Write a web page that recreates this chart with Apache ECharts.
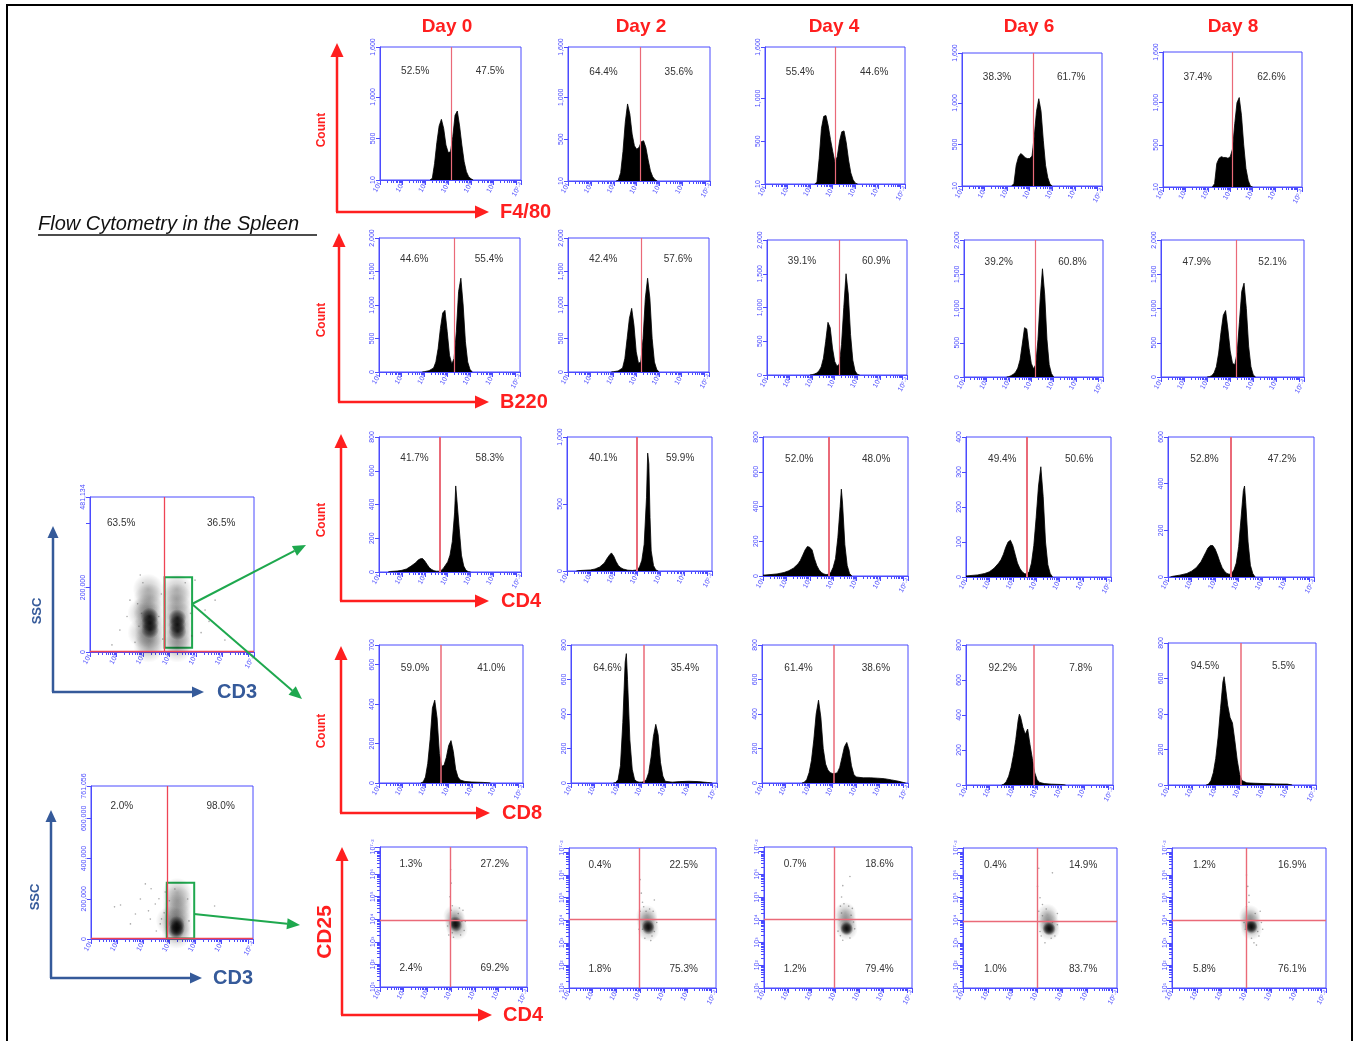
<!DOCTYPE html>
<html><head><meta charset="utf-8">
<script src="https://cdn.jsdelivr.net/npm/echarts@6/dist/echarts.min.js"></script>
<style>html,body{margin:0;padding:0;background:#fff}#c{width:1356px;height:1041px}</style>
</head><body><div id="c"></div><script>
// ---------------- DATA (log10 fluorescence, count) ----------------
const DAYS = ['Day 0', 'Day 2', 'Day 4', 'Day 6', 'Day 8'];
const ROW_MARKERS = ['F4/80', 'B220', 'CD4', 'CD8'];

// F4/80
const f480Day0 = [[3.2,0],[3.3,20],[3.4,200],[3.5,450],[3.6,650],[3.7,730],[3.8,620],[3.9,420],[4.0,330],[4.1,340],[4.2,520],[4.3,780],[4.4,830],[4.5,650],[4.6,420],[4.7,220],[4.8,100],[4.9,40],[5.0,15],[5.1,0]];
const f480Day2 = [[3.1,0],[3.2,10],[3.3,100],[3.4,350],[3.5,700],[3.6,920],[3.7,800],[3.8,560],[3.9,420],[4.0,380],[4.1,400],[4.2,470],[4.3,480],[4.4,400],[4.5,250],[4.6,120],[4.7,50],[4.8,15],[4.9,0]];
const f480Day4 = [[3.2,0],[3.3,20],[3.4,300],[3.5,650],[3.6,790],[3.7,800],[3.8,680],[3.9,520],[4.0,380],[4.1,250],[4.2,320],[4.3,500],[4.4,610],[4.5,620],[4.6,480],[4.7,280],[4.8,130],[4.9,50],[5.0,10],[5.1,0]];
const f480Day6 = [[3.2,0],[3.3,30],[3.4,250],[3.5,350],[3.6,390],[3.7,370],[3.8,340],[3.9,330],[4.0,330],[4.1,360],[4.2,600],[4.3,900],[4.4,1050],[4.5,900],[4.6,550],[4.7,250],[4.8,100],[4.9,20],[5.0,0]];
const f480Day8 = [[3.2,0],[3.3,40],[3.4,280],[3.5,340],[3.6,360],[3.7,350],[3.8,350],[3.9,340],[4.0,360],[4.1,450],[4.2,750],[4.3,1000],[4.4,1060],[4.5,850],[4.6,500],[4.7,220],[4.8,80],[4.9,10],[5.0,0]];
const f480Gate = [4.13, 4.14, 4.13, 4.14, 4.11];
const f480Pct = [['52.5%','47.5%'],['64.4%','35.6%'],['55.4%','44.6%'],['38.3%','61.7%'],['37.4%','62.6%']];
const f480YMax = [1600, 1600, 1600, 1600, 1600];
const f480YTicks = [0, 500, 1000, 1600];

// B220
const b220Day0 = [[2.9,0],[3.0,5],[3.2,20],[3.4,60],[3.5,150],[3.6,350],[3.7,650],[3.8,880],[3.9,920],[4.0,600],[4.1,250],[4.2,120],[4.3,200],[4.4,600],[4.5,1200],[4.6,1400],[4.7,1000],[4.8,450],[4.9,150],[5.0,40],[5.1,0]];
const b220Day2 = [[2.9,0],[3.0,5],[3.2,15],[3.4,60],[3.5,200],[3.6,500],[3.7,800],[3.8,950],[3.9,700],[4.0,300],[4.1,130],[4.2,150],[4.3,500],[4.4,1100],[4.5,1400],[4.6,1100],[4.7,500],[4.8,150],[4.9,40],[5.0,0]];
const b220Day4 = [[2.9,0],[3.0,5],[3.1,15],[3.2,30],[3.3,60],[3.4,120],[3.5,250],[3.6,500],[3.7,780],[3.8,700],[3.9,400],[4.0,200],[4.1,130],[4.2,160],[4.3,450],[4.4,1000],[4.5,1500],[4.6,1200],[4.7,600],[4.8,220],[4.9,60],[5.0,10],[5.1,0]];
const b220Day6 = [[2.9,0],[3.0,5],[3.1,20],[3.2,40],[3.3,70],[3.4,130],[3.5,250],[3.6,480],[3.7,720],[3.8,700],[3.9,420],[4.0,200],[4.1,120],[4.2,180],[4.3,550],[4.4,1150],[4.5,1580],[4.6,1200],[4.7,550],[4.8,180],[4.9,50],[5.0,0]];
const b220Day8 = [[3.0,0],[3.1,5],[3.2,20],[3.3,60],[3.4,150],[3.5,350],[3.6,650],[3.7,900],[3.8,970],[3.9,700],[4.0,380],[4.1,200],[4.2,180],[4.3,350],[4.4,800],[4.5,1250],[4.6,1370],[4.7,1000],[4.8,450],[4.9,150],[5.0,30],[5.1,0]];
const b220Gate = [4.3, 4.22, 4.21, 4.17, 4.27];
const b220Pct = [['44.6%','55.4%'],['42.4%','57.6%'],['39.1%','60.9%'],['39.2%','60.8%'],['47.9%','52.1%']];
const b220YMax = [2000, 2000, 2000, 2000, 2000];
const b220YTicks = [0, 500, 1000, 1500, 2000];

// CD4
const cd4Day0 = [[1.4,0],[1.5,3],[1.8,6],[2.0,10],[2.2,18],[2.4,35],[2.6,55],[2.7,70],[2.8,78],[2.9,80],[3.0,65],[3.1,45],[3.2,25],[3.3,15],[3.4,8],[3.5,5],[3.6,5],[3.7,8],[3.8,20],[3.9,40],[4.0,60],[4.1,100],[4.2,180],[4.3,350],[4.35,510],[4.4,430],[4.5,260],[4.6,100],[4.7,35],[4.8,10],[4.9,2],[5.0,0]];
const cd4Day2 = [[1.4,0],[1.5,3],[2.0,8],[2.2,15],[2.4,30],[2.6,60],[2.7,90],[2.8,115],[2.9,135],[3.0,110],[3.1,70],[3.2,40],[3.3,25],[3.4,15],[3.6,6],[3.8,4],[4.0,8],[4.1,30],[4.2,80],[4.3,200],[4.4,550],[4.45,880],[4.5,800],[4.55,400],[4.6,150],[4.7,40],[4.8,8],[4.9,0]];
const cd4Day4 = [[1.0,5],[1.3,8],[1.6,12],[1.9,20],[2.1,30],[2.3,45],[2.5,70],[2.6,90],[2.7,120],[2.8,150],[2.9,170],[3.0,165],[3.1,150],[3.2,100],[3.3,60],[3.4,35],[3.5,20],[3.6,12],[3.7,8],[3.8,10],[3.9,20],[4.0,50],[4.1,100],[4.2,220],[4.3,400],[4.35,500],[4.4,420],[4.5,180],[4.6,60],[4.7,15],[4.8,0]];
const cd4Day6 = [[1.0,3],[1.5,6],[1.8,10],[2.0,15],[2.2,25],[2.4,40],[2.5,50],[2.6,65],[2.7,85],[2.8,100],[2.9,105],[3.0,90],[3.1,65],[3.2,40],[3.3,25],[3.4,15],[3.5,10],[3.6,8],[3.7,15],[3.8,40],[3.9,90],[4.0,170],[4.1,260],[4.2,315],[4.3,230],[4.4,100],[4.5,35],[4.6,10],[4.7,0]];
const cd4Day8 = [[1.1,0],[1.2,3],[1.5,8],[1.8,15],[2.0,25],[2.2,40],[2.4,65],[2.5,85],[2.6,105],[2.7,125],[2.8,135],[2.9,135],[3.0,120],[3.1,95],[3.2,65],[3.3,40],[3.4,25],[3.5,15],[3.6,12],[3.7,15],[3.8,30],[3.9,60],[4.0,130],[4.1,250],[4.2,370],[4.25,390],[4.3,320],[4.4,150],[4.5,50],[4.6,15],[4.7,0]];
const cd4Gate = [3.65, 3.98, 3.8, 3.58, 3.68];
const cd4Pct = [['41.7%','58.3%'],['40.1%','59.9%'],['52.0%','48.0%'],['49.4%','50.6%'],['52.8%','47.2%']];
const cd4YMax = [800, 1000, 800, 400, 600];
const cd4YTicks = [[0,200,400,600,800],[0,500,1000],[0,200,400,600,800],[0,100,200,300,400],[0,200,400,600]];

// CD8
const cd8Day0 = [[2.8,0],[2.9,5],[3.0,30],[3.1,100],[3.2,220],[3.3,380],[3.4,420],[3.5,330],[3.6,150],[3.7,85],[3.8,90],[3.9,130],[4.0,190],[4.1,215],[4.2,160],[4.3,70],[4.4,30],[4.5,15],[4.7,8],[5.0,5],[5.5,3],[5.8,0]];
const cd8Day2 = [[2.8,0],[2.9,3],[3.0,20],[3.1,100],[3.2,350],[3.3,700],[3.35,750],[3.4,600],[3.5,250],[3.6,80],[3.7,20],[3.8,8],[3.9,5],[4.0,5],[4.1,8],[4.2,20],[4.3,60],[4.4,150],[4.5,270],[4.6,340],[4.65,350],[4.7,280],[4.8,120],[4.9,40],[5.0,10],[5.3,5],[5.6,8],[6.0,10],[6.4,8],[6.8,3],[7.0,0]];
const cd8Day4 = [[2.7,0],[2.8,5],[2.9,20],[3.0,60],[3.1,130],[3.2,250],[3.3,400],[3.4,480],[3.5,380],[3.6,200],[3.7,110],[3.8,75],[3.9,60],[4.0,55],[4.1,55],[4.2,60],[4.3,90],[4.4,150],[4.5,210],[4.6,235],[4.7,190],[4.8,100],[4.9,50],[5.0,35],[5.3,30],[5.6,30],[5.9,28],[6.2,25],[6.5,18],[6.8,10],[7.0,3],[7.1,0]];
const cd8Day6 = [[2.5,0],[2.6,5],[2.7,20],[2.8,50],[2.9,100],[3.0,170],[3.1,260],[3.2,370],[3.25,405],[3.3,390],[3.4,330],[3.5,290],[3.6,320],[3.65,310],[3.7,230],[3.8,150],[3.9,70],[4.0,30],[4.1,15],[4.3,8],[4.6,5],[5.0,3],[5.2,0]];
const cd8Day8 = [[2.6,0],[2.7,5],[2.8,25],[2.9,70],[3.0,150],[3.1,270],[3.2,430],[3.3,580],[3.35,610],[3.4,560],[3.5,450],[3.6,380],[3.7,350],[3.8,250],[3.9,140],[4.0,60],[4.1,25],[4.3,12],[4.6,10],[5.0,8],[5.5,6],[6.0,5],[6.2,0]];
const cd8Gate = [3.65, 4.07, 4.04, 3.87, 4.03];
const cd8Pct = [['59.0%','41.0%'],['64.6%','35.4%'],['61.4%','38.6%'],['92.2%','7.8%'],['94.5%','5.5%']];
const cd8YMax = [700, 800, 800, 800, 800];
const cd8YTicks = [[0,200,400,600,700],[0,200,400,600,800],[0,200,400,600,800],[0,200,400,600,800],[0,200,400,600,800]];

// CD4 (x) vs CD25 (y), log10 values
const cd25Day0Cloud = [[4.12,4.15],[4.17,3.95],[4.2,3.75],[4.25,3.55]];
const cd25Day0Core = [[4.17,3.85],[4.2,3.72]];
const cd25Day0Dots = [[3.95,5.0],[4.0,5.6],[4.05,4.6],[3.98,6.2],[4.55,3.5],[4.5,4.4],[3.9,3.3],[4.6,3.9],[4.1,3.2],[4.0,4.4],[4.35,4.5],[3.85,3.7],[4.4,3.3],[4.3,4.25],[4.05,3.4],[4.45,3.9]];
const cd25Day2Cloud = [[4.28,4.2],[4.3,4.0],[4.33,3.8],[4.35,3.55]];
const cd25Day2Core = [[4.33,3.75],[4.35,3.65]];
const cd25Day2Dots = [[4.05,5.2],[4.0,5.8],[4.1,4.8],[4.6,3.5],[4.55,4.4],[4.0,4.4],[4.2,3.2],[4.6,4.9],[4.15,4.6],[3.95,3.6],[4.45,3.1],[4.7,3.9],[4.4,4.5],[4.1,3.6],[4.5,3.3],[4.25,4.4]];
const cd25Day4Cloud = [[4.4,4.3],[4.42,4.05],[4.45,3.82],[4.47,3.58]];
const cd25Day4Core = [[4.45,3.65],[4.47,3.58]];
const cd25Day4Dots = [[4.25,5.0],[4.3,5.5],[4.6,5.9],[4.2,4.6],[4.75,3.9],[4.25,4.3],[4.7,4.5],[4.1,3.5],[4.6,3.2],[4.3,3.1],[4.8,3.6],[4.15,4.0],[4.35,4.7],[4.65,4.2],[4.2,3.3],[4.55,4.6]];
const cd25Day6Cloud = [[4.4,4.25],[4.42,4.0],[4.45,3.8],[4.47,3.58]];
const cd25Day6Core = [[4.45,3.65],[4.48,3.6]];
const cd25Day6Dots = [[4.0,5.5],[4.1,5.0],[4.2,4.7],[4.8,4.3],[4.6,6.1],[4.05,4.4],[4.1,3.5],[4.7,3.3],[4.3,3.0],[4.8,3.8],[4.2,4.2],[4.05,6.3],[4.35,4.5],[4.6,3.9],[4.15,3.3],[4.55,3.2]];
const cd25Day8Cloud = [[4.13,4.2],[4.15,4.0],[4.18,3.8],[4.2,3.6]];
const cd25Day8Core = [[4.18,3.75],[4.2,3.68]];
const cd25Day8Dots = [[4.0,6.0],[4.05,5.5],[4.1,5.1],[4.5,3.3],[4.6,3.9],[4.3,3.0],[4.0,4.6],[4.55,4.4],[3.95,3.6],[4.4,2.9],[4.65,3.6],[4.1,4.8],[4.35,4.3],[3.9,3.9],[4.45,3.5],[4.2,3.2]];
const cd25GateX = [3.97, 3.97, 3.95, 3.97, 3.99];
const cd25GateY = [3.97, 4.03, 4.03, 3.95, 3.98];
const cd25Pct = [['1.3%','27.2%','2.4%','69.2%'],['0.4%','22.5%','1.8%','75.3%'],['0.7%','18.6%','1.2%','79.4%'],['0.4%','14.9%','1.0%','83.7%'],['1.2%','16.9%','5.8%','76.1%']];

// SSC vs CD3 (x log10, y linear)
const ssc1Cloud = [[3.2,195000],[3.23,165000],[3.2,135000],[3.22,110000],[3.25,85000],[3.27,60000],[3.25,35000],[3.22,15000],[3.0,120000],[3.0,60000],
                   [4.28,195000],[4.28,165000],[4.27,135000],[4.3,110000],[4.3,85000],[4.32,60000],[4.3,35000],[4.3,15000]];
const ssc1Core = [[3.25,110000],[3.27,90000],[3.27,70000],[4.3,105000],[4.3,85000],[4.31,65000]];
const ssc1Dots = [[2.13,68000],[2.51,161000],[5.35,130000],[5.73,161000],[6.1,37000],[1.83,22000],[4.97,223000],[2.9,239000],[5.2,60000],[2.7,30000],[5.5,95000],[3.0,215000],[4.6,215000],[2.4,110000],[2.8,150000],[2.85,80000],[3.7,180000],[3.75,40000],[4.8,120000],[4.85,50000],[3.6,110000],[2.95,120000]];
const ssc1YMax = 481134;
const ssc1YTicks = [0, 200000, 400000, 481134];
const ssc1YLabels = [0, 200000, 481134];
const ssc1Gate = 3.82;
const ssc1Rect = [3.82, 4.86, 13500, 231700];
const ssc1Pct = ['63.5%', '36.5%'];

const ssc2Cloud = [[4.3,230000],[4.3,190000],[4.3,150000],[4.28,115000],[4.3,80000],[4.3,50000],[4.27,25000],[4.05,90000]];
const ssc2Core = [[4.28,75000],[4.3,55000],[4.26,40000]];
const ssc2Dots = [[2.13,169000],[2.89,199000],[3.27,99000],[3.46,174000],[3.65,75000],[2.51,75000],[3.08,274000],[5.73,164000],[3.84,234000],[2.7,124000],[4.7,199000],[4.21,249000],[3.5,40000],[3.8,130000],[1.9,160000],[3.3,250000],[3.9,60000],[4.0,190000],[3.6,200000],[3.7,100000],[3.2,140000],[4.75,90000]];
const ssc2YMax = 761056;
const ssc2YTicks = [0, 200000, 400000, 600000, 761056];
const ssc2Gate = 3.9;
const ssc2Rect = [3.9, 4.95, 3000, 280000];
const ssc2Pct = ['2.0%', '98.0%'];

// ---------------- LAYOUT / STYLE ----------------
const BLUE = '#4b4bff';
const RED = '#ff1f1f';
const GATE_RED = '#ea6a78';
const NAVY = '#355a9a';
const GREEN = '#1ea84e';
const FONT = "'Liberation Sans', Arial, sans-serif";
const XMAX = Math.pow(10, 7.2);
const SUP = {'0':'\u2070','1':'\u00b9','2':'\u00b2','3':'\u00b3','4':'\u2074','5':'\u2075','6':'\u2076','7':'\u2077','8':'\u2078','9':'\u2079','.':'\u00b7'};
function logLabel(v) {
  const e = Math.round(Math.log10(v) * 10) / 10;
  if (e === 7) return '';
  return '10' + String(e).split('').map(c => SUP[c] || c).join('');
}
function comma(v) { return Number(v).toLocaleString('en-US'); }
const P = p => Math.pow(10, p);
function radial(a0, a1) {
  return {type:'radial', x:0.5, y:0.5, r:0.5, colorStops:[
    {offset:0, color:'rgba(0,0,0,' + a0 + ')'}, {offset:0.55, color:'rgba(0,0,0,' + a1 + ')'}, {offset:1, color:'rgba(0,0,0,0)'}]};
}

const BOXES = [
  [[380,47,521,180],[568,47,710,181],[765,47,905,184],[962,53,1102,186],[1163,52,1302,187]],
  [[379,238,520,372],[568,238,709,372],[767,240,907,375],[964,240,1103,377],[1161,240,1304,377]],
  [[379,437,521,572],[567,437,712,571],[763,437,908,576],[966,437,1111,577],[1168,437,1314,577]],
  [[379,645,523,783],[571,645,717,783],[762,645,908,783],[966,645,1113,785],[1168,643,1316,785]],
  [[380,847,527,987],[569,848,716,988],[764,847,912,988],[963,848,1117,988],[1172,848,1326,988]]
];
const SSC_BOXES = [[90,497,254,652],[91,786,253,939]];

const grids = [], xAxes = [], yAxes = [], series = [], graphics = [];

function xLog() {
  return {type:'log', logBase:10, min:10, max:XMAX,
    axisLine:{show:true, onZero:false, lineStyle:{color:BLUE, width:1}},
    axisTick:{show:true, length:5, lineStyle:{color:BLUE}},
    minorTick:{show:true, splitNumber:9, length:3, lineStyle:{color:BLUE}},
    splitLine:{show:false}, minorSplitLine:{show:false},
    axisLabel:{show:true, fontSize:7, fontFamily:FONT, color:BLUE, rotate:60, margin:3, showMinLabel:true, showMaxLabel:true, hideOverlap:false, formatter:logLabel}};
}
function yLin(max, ticks, labels, fmt) {
  return {type:'value', min:0, max:max,
    axisLine:{show:true, onZero:false, lineStyle:{color:BLUE, width:1}},
    axisTick:{show:true, length:4, customValues:ticks, lineStyle:{color:BLUE}},
    axisLabel:{show:true, customValues:labels || ticks, fontSize:7, fontFamily:FONT, color:BLUE, rotate:90, margin:3, formatter:fmt || comma},
    splitLine:{show:false}};
}
function yLog() {
  return {type:'log', logBase:10, min:10, max:XMAX,
    axisLine:{show:true, onZero:false, lineStyle:{color:BLUE, width:1}},
    axisTick:{show:true, length:5, lineStyle:{color:BLUE}},
    minorTick:{show:true, splitNumber:9, length:3, lineStyle:{color:BLUE}},
    splitLine:{show:false}, minorSplitLine:{show:false},
    axisLabel:{show:true, fontSize:7, fontFamily:FONT, color:BLUE, rotate:90, margin:3, showMinLabel:true, showMaxLabel:true, formatter:logLabel}};
}
function addPanel(box, yAxis) {
  const i = grids.length;
  grids.push({left:box[0], top:box[1], width:box[2]-box[0], height:box[3]-box[1], containLabel:false, outerBoundsMode:'none', show:true, borderColor:BLUE, borderWidth:1});
  const xa = xLog(); xa.gridIndex = i; xAxes.push(xa);
  yAxis.gridIndex = i; yAxes.push(yAxis);
  return i;
}
function text(x, y, str, font, fill, align, rot) {
  graphics.push({type:'text', x:x, y:y, rotation:rot || 0, z:50,
    style:{text:str, font:font, fill:fill, align:align || 'center', verticalAlign:'middle', textAlign:align || 'center', textVerticalAlign:'middle'}});
}
function boxText(box, fx, fy, str) {
  text(box[0] + fx * (box[2]-box[0]), box[1] + fy * (box[3]-box[1]), str, '10px ' + FONT, '#333');
}
function arrow(x1, y1, x2, y2, color, w, hl, hw) {
  const a = Math.atan2(y2-y1, x2-x1);
  const bx = x2 - hl*Math.cos(a), by = y2 - hl*Math.sin(a);
  const px = -Math.sin(a)*hw/2, py = Math.cos(a)*hw/2;
  graphics.push({type:'line', z:40, shape:{x1:x1, y1:y1, x2:bx, y2:by}, style:{stroke:color, lineWidth:w}});
  graphics.push({type:'polygon', z:40, shape:{points:[[x2,y2],[bx+px,by+py],[bx-px,by-py]]}, style:{fill:color}});
}

// ---------------- HISTOGRAM ROWS ----------------
const rows = [
  {hists:[f480Day0,f480Day2,f480Day4,f480Day6,f480Day8], gate:f480Gate, pct:f480Pct, ymax:f480YMax, ticks:[f480YTicks,f480YTicks,f480YTicks,f480YTicks,f480YTicks], fmt:v => v === 0 ? '10' : comma(v), gw:1.2, fy:0.185},
  {hists:[b220Day0,b220Day2,b220Day4,b220Day6,b220Day8], gate:b220Gate, pct:b220Pct, ymax:b220YMax, ticks:[b220YTicks,b220YTicks,b220YTicks,b220YTicks,b220YTicks], fmt:comma, gw:1.2, fy:0.16},
  {hists:[cd4Day0,cd4Day2,cd4Day4,cd4Day6,cd4Day8], gate:cd4Gate, pct:cd4Pct, ymax:cd4YMax, ticks:cd4YTicks, fmt:comma, gw:2, fy:0.16},
  {hists:[cd8Day0,cd8Day2,cd8Day4,cd8Day6,cd8Day8], gate:cd8Gate, pct:cd8Pct, ymax:cd8YMax, ticks:cd8YTicks, fmt:comma, gw:1.5, fy:0.165}
];
rows.forEach((row, r) => {
  row.hists.forEach((h, c) => {
    const box = BOXES[r][c];
    const i = addPanel(box, yLin(row.ymax[c], row.ticks[c], null, row.fmt));
    series.push({type:'line', xAxisIndex:i, yAxisIndex:i, silent:true, animation:false,
      data:h.map(p => [P(p[0]), p[1]]), symbol:'none', smooth:false,
      lineStyle:{color:'#000', width:0.8}, areaStyle:{color:'#000', opacity:1},
      markLine:{silent:true, symbol:'none', animation:false, label:{show:false},
        lineStyle:{color:GATE_RED, width:row.gw, type:'solid'}, data:[{xAxis:P(row.gate[c])}]}});
    boxText(box, 0.25, row.fy, row.pct[c][0]);
    boxText(box, 0.78, row.fy, row.pct[c][1]);
  });
});

// ---------------- CD4 vs CD25 ROW ----------------
const cd25Clouds = [cd25Day0Cloud, cd25Day2Cloud, cd25Day4Cloud, cd25Day6Cloud, cd25Day8Cloud];
const cd25Cores = [cd25Day0Core, cd25Day2Core, cd25Day4Core, cd25Day6Core, cd25Day8Core];
const cd25Dots = [cd25Day0Dots, cd25Day2Dots, cd25Day4Dots, cd25Day6Dots, cd25Day8Dots];
function cloudSeries(i, cloud, core, dots, toXY, haloSize, coreSize, markLine, markArea) {
  series.push({type:'scatter', xAxisIndex:i, yAxisIndex:i, silent:true, animation:false, data:cloud.map(toXY),
    symbolSize:haloSize, itemStyle:{color:radial(0.3, 0.15)}, markLine:markLine, markArea:markArea});
  series.push({type:'scatter', xAxisIndex:i, yAxisIndex:i, silent:true, animation:false, data:core.map(toXY),
    symbolSize:coreSize, itemStyle:{color:radial(0.95, 0.55)}});
  series.push({type:'scatter', xAxisIndex:i, yAxisIndex:i, silent:true, animation:false, data:dots.map(toXY),
    symbolSize:1.6, itemStyle:{color:'rgba(60,60,60,0.55)'}});
}
BOXES[4].forEach((box, c) => {
  const i = addPanel(box, yLog());
  const ml = {silent:true, symbol:'none', animation:false, label:{show:false},
    lineStyle:{color:GATE_RED, width:1.4, type:'solid'}, data:[{xAxis:P(cd25GateX[c])}, {yAxis:P(cd25GateY[c])}]};
  cloudSeries(i, cd25Clouds[c], cd25Cores[c], cd25Dots[c], p => [P(p[0]), P(p[1])], 22, 13, ml, null);
  boxText(box, 0.21, 0.12, cd25Pct[c][0]);
  boxText(box, 0.78, 0.12, cd25Pct[c][1]);
  boxText(box, 0.21, 0.865, cd25Pct[c][2]);
  boxText(box, 0.78, 0.865, cd25Pct[c][3]);
});

// ---------------- SSC vs CD3 (left) ----------------
[
  {box:SSC_BOXES[0], ymax:ssc1YMax, ticks:ssc1YTicks, labels:ssc1YLabels, cloud:ssc1Cloud, core:ssc1Core, dots:ssc1Dots, gate:ssc1Gate, rect:ssc1Rect, pct:ssc1Pct, halo:31, cs:18, fy:0.17},
  {box:SSC_BOXES[1], ymax:ssc2YMax, ticks:ssc2YTicks, labels:ssc2YTicks, cloud:ssc2Cloud, core:ssc2Core, dots:ssc2Dots, gate:ssc2Gate, rect:ssc2Rect, pct:ssc2Pct, halo:30, cs:16, fy:0.13}
].forEach(s => {
  const i = addPanel(s.box, yLin(s.ymax, s.ticks, s.labels, comma));
  const ml = {silent:true, symbol:'none', animation:false, label:{show:false},
    lineStyle:{color:'#ee4455', width:1.3, type:'solid'}, data:[{xAxis:P(s.gate)}, {yAxis:s.ymax*0.004}]};
  const ma = {silent:true, animation:false, label:{show:false},
    itemStyle:{color:'rgba(0,0,0,0)', borderColor:GREEN, borderWidth:2},
    data:[[{xAxis:P(s.rect[0]), yAxis:s.rect[2]}, {xAxis:P(s.rect[1]), yAxis:s.rect[3]}]]};
  cloudSeries(i, s.cloud, s.core, s.dots, p => [P(p[0]), p[1]], s.halo, s.cs, ml, ma);
  boxText(s.box, 0.19, s.fy, s.pct[0]);
  boxText(s.box, 0.80, s.fy, s.pct[1]);
});

// ---------------- ANNOTATIONS ----------------
graphics.push({type:'rect', z:1, shape:{x:7, y:5, width:1345, height:1045}, style:{fill:'none', stroke:'#000', lineWidth:2}});
text(38, 224, 'Flow Cytometry in the Spleen', 'italic 20px ' + FONT, '#111', 'left');
graphics.push({type:'line', z:40, shape:{x1:38, y1:235, x2:317, y2:235}, style:{stroke:'#111', lineWidth:1.3}});
[447, 641, 834, 1029, 1233].forEach((x, k) => text(x, 27, DAYS[k], 'bold 19px ' + FONT, RED));
const axisArrows = [
  {vx:337, top:43, by:212, hx:489, lx:500, cy:130, label:ROW_MARKERS[0]},
  {vx:339, top:233, by:402, hx:489, lx:500, cy:320, label:ROW_MARKERS[1]},
  {vx:341, top:434, by:601, hx:489, lx:501, cy:520, label:ROW_MARKERS[2]},
  {vx:341, top:646, by:813, hx:490, lx:502, cy:731, label:ROW_MARKERS[3]},
  {vx:342, top:847, by:1015, hx:492, lx:503, cy:932, label:'CD4'}
];
axisArrows.forEach((a, k) => {
  arrow(a.vx, a.by, a.vx, a.top, RED, 2.5, 14, 13);
  arrow(a.vx - 1, a.by, a.hx, a.by, RED, 2.5, 14, 13);
  text(a.lx, a.by, a.label, 'bold 20px ' + FONT, RED, 'left');
  if (k < 4) text(322, a.cy, 'Count', 'bold 12px ' + FONT, RED, 'center', Math.PI / 2);
  else text(325, a.cy, 'CD25', 'bold 21px ' + FONT, RED, 'center', Math.PI / 2);
});
arrow(53, 692, 53, 526, NAVY, 2.5, 12, 11);
arrow(52, 692, 204, 692, NAVY, 2.5, 12, 11);
text(237, 692, 'CD3', 'bold 20px ' + FONT, NAVY);
text(37, 611, 'SSC', 'bold 13px ' + FONT, NAVY, 'center', Math.PI / 2);
arrow(51, 978, 51, 810, NAVY, 2.5, 12, 11);
arrow(50, 978, 202, 978, NAVY, 2.5, 12, 11);
text(233, 978, 'CD3', 'bold 20px ' + FONT, NAVY);
text(35, 897, 'SSC', 'bold 13px ' + FONT, NAVY, 'center', Math.PI / 2);
arrow(192, 604, 306, 545, GREEN, 2, 13, 11);
arrow(192, 604, 302, 699, GREEN, 2, 13, 11);
arrow(194, 914, 300, 925, GREEN, 2, 13, 11);

const chart = echarts.init(document.getElementById('c'), null, {renderer:'canvas'});
chart.setOption({
  animation:false,
  backgroundColor:'#fff',
  grid:grids, xAxis:xAxes, yAxis:yAxes, series:series, graphic:graphics
});
</script></body></html>
